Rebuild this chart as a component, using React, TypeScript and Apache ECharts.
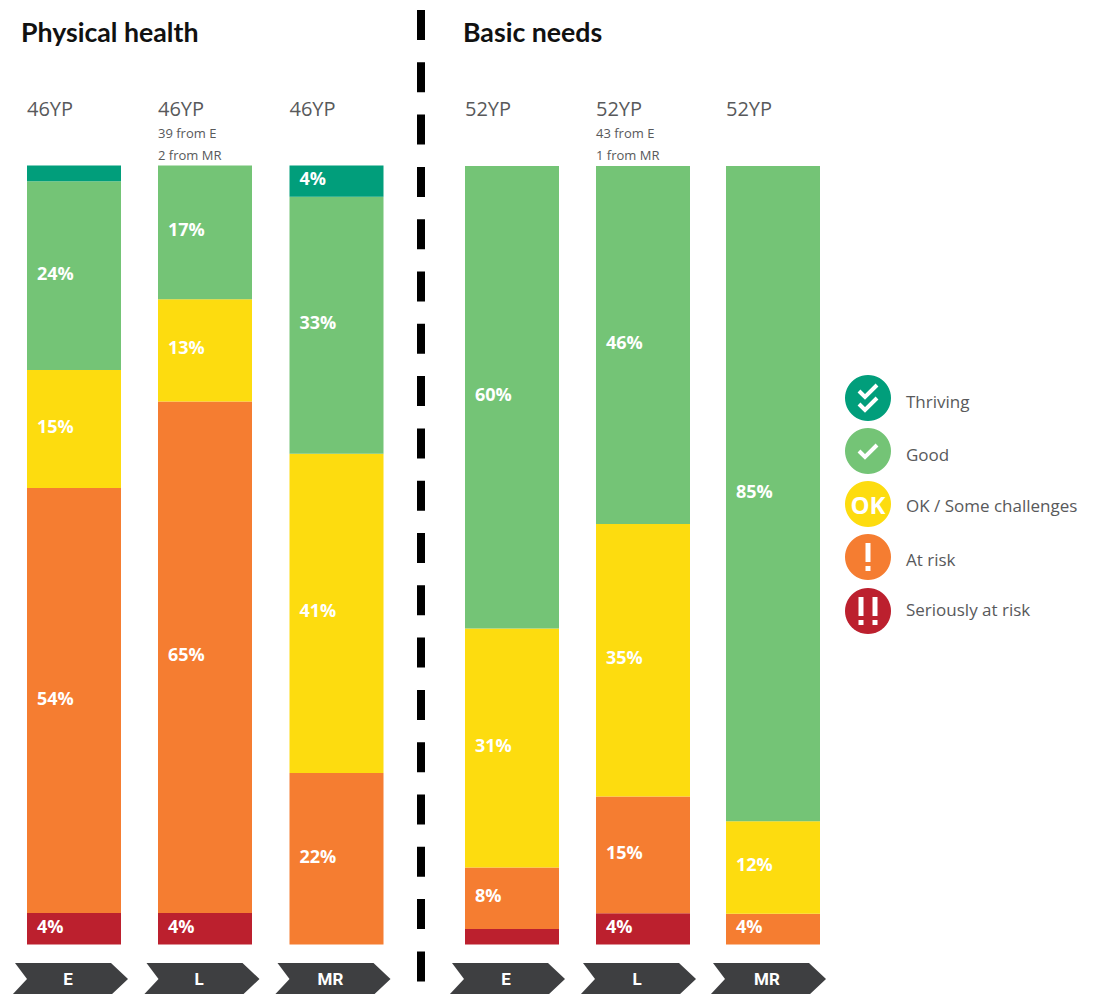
import React, { useEffect, useRef } from "react";
import * as echarts from "echarts";

// One entry per column: Physical health E, L, MR, then Basic needs E, L, MR
const stages = ["E", "L", "MR", "E", "L", "MR"];
const thriving = [2, null, 4, null, null, null];
const good = [24, 17, 33, 60, 46, 85];
const okChallenges = [15, 13, 41, 31, 35, 12];
const atRisk = [54, 65, 22, 8, 15, 4];
const seriouslyAtRisk = [4, 4, null, 2, 4, null];

// Segments too thin to carry a percentage, as [column, level]
const unlabelled = [
  [0, 0],
  [3, 4],
];

const levelNames = ["Thriving", "Good", "OK / Some challenges", "At risk", "Seriously at risk"];
const levelColors = ["#019E7B", "#74C476", "#FDDC0F", "#F57D31", "#BC202E"];
const levelValues = [thriving, good, okChallenges, atRisk, seriouslyAtRisk];

const panelTitles = ["Physical health", "Basic needs"];
const sampleLabels = ["46YP", "46YP", "46YP", "52YP", "52YP", "52YP"];
const sampleNotes = [[], ["39 from E", "2 from MR"], [], [], ["43 from E", "1 from MR"], []];

const columnLeft = [27, 158, 289.5, 465, 596, 726];
const columnTop = [165.5, 165.5, 165.5, 166, 166, 166];
const columnWidth = 94;
const plotBottom = 944.5;
const chevronLeft = [15, 146.5, 277.5, 452, 583, 713];

const GREY = "#58595B";
const WHITE = "#FFFFFF";
const LEGEND_X = 868;
const legendY = [398, 451, 504, 557, 611];
const legendTextY = [401, 454, 505, 559, 609];

echarts.graphic.registerShape(
  "chevron",
  echarts.graphic.extendPath("M0 0 L96 0 L113 16 L96 32 L-3 32 L12 16 Z", {})
);

function legendGlyph(index: number, cy: number) {
  const tick = (dy: number) => ({
    type: "polyline",
    shape: {
      points: [
        [LEGEND_X - 9, cy + dy],
        [LEGEND_X - 3, cy + dy + 6],
        [LEGEND_X + 9, cy + dy - 6],
      ],
    },
    style: { stroke: WHITE, lineWidth: 4, fill: "none" },
  });
  const bang = (x: number) => [
    { type: "rect", shape: { x: x - 2.5, y: cy - 14, width: 5, height: 19 }, style: { fill: WHITE } },
    { type: "rect", shape: { x: x - 2.5, y: cy + 9, width: 5, height: 5 }, style: { fill: WHITE } },
  ];
  if (index === 0) return [tick(-7), tick(6)];
  if (index === 1) return [tick(0)];
  if (index === 2) {
    return [
      {
        type: "text",
        x: LEGEND_X,
        y: cy,
        style: {
          text: "OK",
          fill: WHITE,
          font: "bold 24px 'Open Sans'",
          align: "center",
          verticalAlign: "middle",
        },
      },
    ];
  }
  if (index === 3) return bang(LEGEND_X);
  return [...bang(LEGEND_X - 7), ...bang(LEGEND_X + 7)];
}

function buildOption() {
  const grid = stages.map((_, c) => ({
    left: columnLeft[c],
    top: columnTop[c],
    width: columnWidth,
    height: plotBottom - columnTop[c],
  }));
  const xAxis = stages.map((stage, c) => ({
    type: "category",
    gridIndex: c,
    data: [stage],
    axisLine: { show: false },
    axisTick: { show: false },
    axisLabel: {
      color: WHITE,
      fontFamily: "Roboto",
      fontWeight: "bold",
      fontSize: 17,
      margin: 26,
      padding: [0, 12, 0, 0],
    },
  }));
  // Each column fills its own axis, since rounded percentages may not total 100
  const yAxis = stages.map((_, c) => ({
    type: "value",
    gridIndex: c,
    min: 0,
    max: levelValues.reduce((sum, level) => sum + (level[c] ?? 0), 0),
    show: false,
  }));

  const series = stages.flatMap((_, c) =>
    levelNames
      .map((name, l) => ({ name, l }))
      .reverse()
      .map(({ name, l }) => ({
        type: "bar",
        name,
        xAxisIndex: c,
        yAxisIndex: c,
        stack: `column${c}`,
        barWidth: "100%",
        itemStyle: { color: levelColors[l] },
        label: {
          show: !unlabelled.some(([uc, ul]) => uc === c && ul === l),
          position: "insideLeft",
          distance: 9,
          offset: [1, -3],
          formatter: "{c}%",
          color: WHITE,
          fontFamily: "Open Sans",
          fontWeight: "bold",
          fontSize: 18,
        },
        data: [levelValues[l][c]],
      }))
  );

  const graphic: any[] = [];

  panelTitles.forEach((text, i) => {
    graphic.push({
      type: "text",
      x: [21, 463][i],
      y: 32,
      style: {
        text,
        fill: "#111111",
        font: "bold 26.7px Lato",
        verticalAlign: "middle",
      },
    });
  });

  stages.forEach((_, c) => {
    graphic.push({
      type: "text",
      x: columnLeft[c],
      y: 108,
      style: {
        text: sampleLabels[c],
        fill: GREY,
        font: "20px 'Open Sans'",
        verticalAlign: "middle",
      },
    });
    sampleNotes[c].forEach((text, n) => {
      graphic.push({
        type: "text",
        x: columnLeft[c],
        y: 133 + n * 22,
        style: { text, fill: GREY, font: "13px 'Open Sans'", verticalAlign: "middle" },
      });
    });
    graphic.push({
      type: "chevron",
      x: chevronLeft[c],
      y: 963,
      z: -1,
      style: { fill: "#3E3F41" },
    });
  });

  graphic.push({
    type: "line",
    shape: { x1: 421, y1: 10, x2: 421, y2: 983 },
    style: { stroke: "#000000", lineWidth: 8, lineDash: [30, 22.3] },
  });

  levelNames.forEach((name, l) => {
    const cy = legendY[l];
    graphic.push({
      type: "circle",
      shape: { cx: LEGEND_X, cy, r: 23 },
      style: { fill: levelColors[l] },
    });
    graphic.push(...legendGlyph(l, cy));
    graphic.push({
      type: "text",
      x: 906,
      y: legendTextY[l],
      style: { text: name, fill: GREY, font: "17px 'Open Sans'", verticalAlign: "middle" },
    });
  });

  return { animation: false, backgroundColor: "#FFFFFF", grid, xAxis, yAxis, series, graphic };
}

export default function App() {
  const ref = useRef<HTMLDivElement>(null);
  useEffect(() => {
    const chart = echarts.init(ref.current, undefined, { renderer: "svg" });
    chart.setOption(buildOption() as any);
    return () => chart.dispose();
  }, []);
  return (
    <div
      ref={ref}
      style={{ position: "fixed", left: 0, top: 0, width: 1093, height: 994, overflow: "hidden" }}
    />
  );
}
